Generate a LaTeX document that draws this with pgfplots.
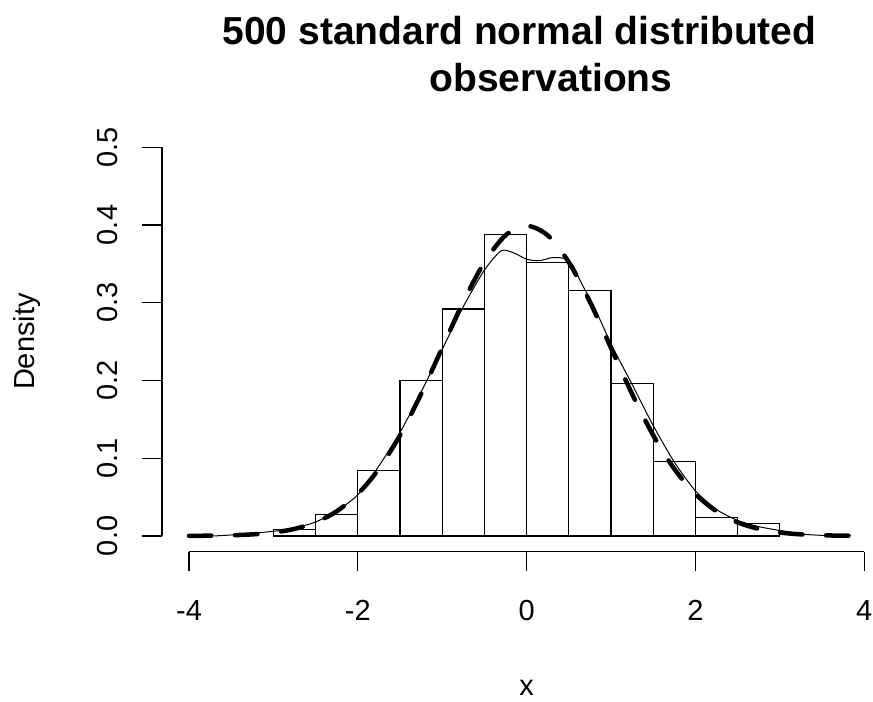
\documentclass[border=0pt]{standalone}
\usepackage{pgfplots}
\pgfplotsset{compat=1.18}
\usepackage{fontspec}
\setmainfont{Liberation Sans}
\begin{document}
\begin{tikzpicture}
\useasboundingbox (-162bp,-150.5bp) rectangle (711bp,551.5bp);
\begin{axis}[
  scale only axis, width=729.2bp, height=419.8bp,
  xmin=-4.32, xmax=4.32, ymin=-0.02, ymax=0.52,
  clip=false,
  axis x line*=bottom, axis y line*=left,
  axis line style={draw=none},
  xtick={-4,-2,0,2,4}, xticklabels={-4,-2,0,2,4},
  ytick={0,0.1,0.2,0.3,0.4,0.5}, yticklabels={0.0,0.1,0.2,0.3,0.4,0.5},
  tick align=outside, major tick length=19.5bp,
  tick style={black, line width=1.2bp},
  ticklabel style={font=\fontsize{29bp}{34bp}\selectfont},
  yticklabel style={rotate=90, anchor=base, yshift=25bp},
  xticklabel style={anchor=north, yshift=-26bp},
  title={500 standard normal distributed\\\hspace*{63bp}observations},
  title style={font=\bfseries\fontsize{39bp}{47bp}\selectfont, align=center, at={(0.4903,1.2613)}, anchor=north, inner sep=0pt},
  xlabel={x},
  xlabel style={font=\fontsize{29bp}{34bp}\selectfont, at={(0.5,-0.3441)}, anchor=base, inner sep=0pt},
  ylabel={Density},
  ylabel style={font=\fontsize{29bp}{34bp}\selectfont, at={(-0.1742,0.5)}, anchor=base, inner sep=0pt},
]
% histogram (density, bin width 0.5)
\addplot[ybar interval, fill=white, draw=black, line width=1.2bp] coordinates {
(-3.0,0.008) (-2.5,0.028) (-2.0,0.084) (-1.5,0.200) (-1.0,0.292) (-0.5,0.388)
(0.0,0.352) (0.5,0.316) (1.0,0.196) (1.5,0.096) (2.0,0.024) (2.5,0.016) (3.0,0.016)
};
% kernel density estimate
\addplot[black, line width=1bp, smooth, tension=0.4] coordinates {
(-3.7,0.000) (-3.4,0.002) (-3.0,0.006) (-2.75,0.010) (-2.5,0.018) (-2.25,0.032)
(-2.0,0.053) (-1.75,0.090) (-1.5,0.133) (-1.25,0.185) (-1.0,0.240) (-0.75,0.295)
(-0.5,0.342) (-0.3,0.367) (-0.15,0.364) (0.0,0.356) (0.15,0.354) (0.3,0.358)
(0.45,0.357) (0.55,0.348) (0.65,0.325) (0.8,0.295) (1.0,0.247) (1.25,0.195)
(1.5,0.142) (1.75,0.095) (2.0,0.058) (2.25,0.034) (2.5,0.020) (2.75,0.012)
(3.0,0.007) (3.3,0.002) (3.67,0.000)
};
% standard normal density
\addplot[black, line width=4.5bp, line cap=round, dash pattern=on 22.5bp off 23.5bp, smooth] coordinates {
(-4.00,0.000134) (-3.75,0.000353) (-3.50,0.000873) (-3.25,0.002029) (-3.00,0.004432)
(-2.75,0.009094) (-2.50,0.017528) (-2.25,0.031740) (-2.00,0.053991) (-1.75,0.086277)
(-1.50,0.129518) (-1.25,0.182649) (-1.00,0.241971) (-0.75,0.301137) (-0.50,0.352065)
(-0.25,0.386668) (0.00,0.398942) (0.25,0.386668) (0.50,0.352065) (0.75,0.301137)
(1.00,0.241971) (1.25,0.182649) (1.50,0.129518) (1.75,0.086277) (2.00,0.053991)
(2.25,0.031740) (2.50,0.017528) (2.75,0.009094) (3.00,0.004432) (3.25,0.002029)
(3.50,0.000873) (3.75,0.000353) (4.00,0.000134)
};
% R-style axis lines
\draw[black, line width=1.2bp] (axis cs:-4,-0.02) -- (axis cs:4,-0.02);
\draw[black, line width=1.2bp] (axis cs:-4.32,0) -- (axis cs:-4.32,0.5);
\end{axis}
\end{tikzpicture}
\end{document}
